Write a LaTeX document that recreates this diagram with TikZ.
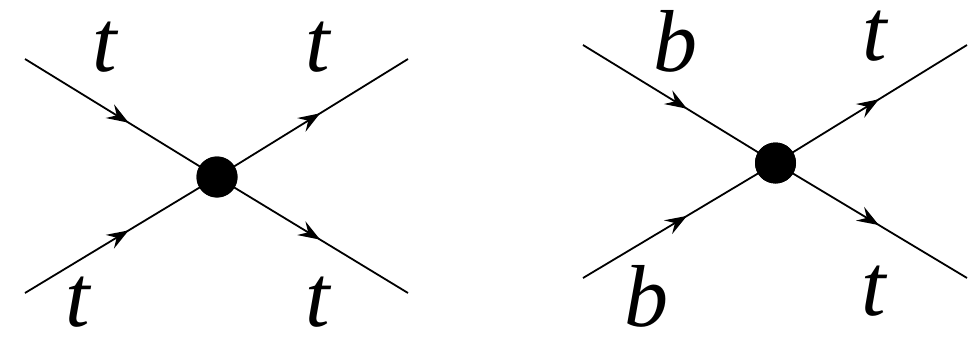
\documentclass[tikz,border=0pt]{standalone}
\usepackage{fontspec}
\setmainfont{Liberation Serif}
\usetikzlibrary{arrows.meta,decorations.markings}
\tikzset{
  prop/.style={line width=1.8pt,postaction={decorate},
    decoration={markings,mark=at position 0.54 with {\arrow{Stealth[length=22pt,width=16pt,inset=8pt]}}}},
  vtx/.style={circle,fill=black,inner sep=0pt,minimum size=41pt},
  lbl/.style={anchor=base,inner sep=0pt,text depth=0pt,text height=0.62em,font=\fontsize{88}{88}\selectfont\itshape}
}
\begin{document}
\begin{tikzpicture}[x=1pt,y=-1pt]
\useasboundingbox (0,0) rectangle (969,337);
% left diagram
\node[vtx] (v1) at (217,177) {};
\coordinate (a1) at (25,59);
\coordinate (b1) at (408,59);
\coordinate (c1) at (25,293);
\coordinate (d1) at (408,293);
\draw[prop] (a1) -- (v1.center);
\draw[prop] (c1) -- (v1.center);
\draw[prop] (v1.center) -- (b1);
\draw[prop] (v1.center) -- (d1);
\node[vtx] at (217,177) {};
\node[lbl] (t1) at (105,72) {t};
\node[lbl] (t2) at (318,72) {t};
\node[lbl] (t3) at (78,326) {t};
\node[lbl] (t4) at (318,326) {t};
% right diagram
\node[vtx] (v2) at (775.5,163) {};
\coordinate (a2) at (583,45);
\coordinate (b2) at (967,45);
\coordinate (c2) at (583,278);
\coordinate (d2) at (967,278);
\draw[prop] (a2) -- (v2.center);
\draw[prop] (c2) -- (v2.center);
\draw[prop] (v2.center) -- (b2);
\draw[prop] (v2.center) -- (d2);
\node[vtx] at (775.5,163) {};
\node[lbl,text height=0.7em] (b3) at (675,72) {b};
\node[lbl] (t5) at (875,61) {t};
\node[lbl] (b4) at (646,326) {b};
\node[lbl] (t6) at (874,315) {t};
\end{tikzpicture}
\end{document}
